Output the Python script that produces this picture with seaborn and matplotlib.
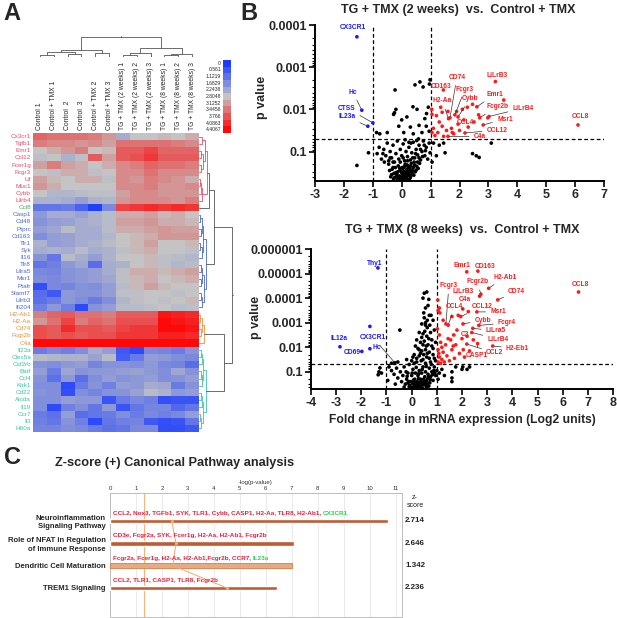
import numpy as np
import pandas as pd
import matplotlib
matplotlib.use("Agg")
import matplotlib.pyplot as plt
import matplotlib.transforms as mtransforms
from matplotlib.colors import LinearSegmentedColormap
from matplotlib.ticker import FixedLocator, NullFormatter
import seaborn as sns

# ---------------- panel A : heatmap ----------------
samples = ["Control 1", "Control + TMX 1", "Control  2", "Control  3", "Control + TMX 2", "Control + TMX 3",
           "TG + TMX (2 weeks) 1", "TG + TMX (2 weeks) 2", "TG + TMX (2 weeks) 3",
           "TG + TMX (8 weeks) 1", "TG + TMX (8 weeks) 2", "TG + TMX (8 weeks) 3"]
genes = ["Cx3cr1", "Tgfb1", "Emr1", "Ccl12", "Fcer1g", "Fcgr3", "Lif", "Muc1", "Cybb", "Lilrb4",
         "Ccl8",
         "Casp1", "Cd48", "Ptprc", "Cd163", "Tlr1", "Syk", "Il16", "Tlr8", "Lilra5", "Msr1", "Ptafr",
         "Slamf7", "Lilrb3", "Ifi204",
         "H2-Ab1", "H2-Aa", "Cd74", "Fcgr2b", "C4a",
         "Il23a", "Clec5a", "Csf2rb", "Batf", "Ccl4", "Klrk1", "Cd22", "Aicda", "Il19", "Ccr7", "Il3", "H60a"]
gene_group = ["red"] * 10 + ["green"] + ["blue"] * 14 + ["orange"] * 5 + ["teal"] * 12
group_colors = {"red": "#e0506a", "green": "#4cb050", "blue": "#4a68d0",
                "orange": "#e8923a", "teal": "#3cc4a2", "col": "#555555"}

expr_values = [
    [3.6, 3.5, 3.5, 3.5, 3.4, 3.2, 2.3, 2.8, 2.8, 2.9, 2.8, 3.0],
    [3.4, 3.3, 3.3, 3.2, 3.3, 3.1, 3.5, 3.5, 3.5, 3.5, 3.4, 3.3],
    [2.8, 3.0, 3.2, 3.4, 2.8, 2.9, 3.7, 3.7, 3.9, 3.6, 3.6, 3.6],
    [2.7, 2.8, 2.4, 2.7, 3.7, 3.1, 3.7, 3.8, 4.0, 3.7, 3.7, 3.7],
    [3.1, 3.4, 3.1, 3.0, 2.8, 3.0, 3.3, 3.4, 3.6, 3.5, 3.5, 3.4],
    [2.8, 2.7, 3.0, 3.0, 2.7, 2.8, 3.3, 3.3, 3.5, 3.3, 3.3, 3.3],
    [3.1, 2.9, 2.8, 3.0, 3.0, 2.7, 3.3, 3.2, 3.4, 3.3, 3.2, 3.0],
    [3.2, 3.0, 2.8, 2.8, 2.8, 2.8, 3.3, 3.3, 3.4, 3.2, 3.2, 3.3],
    [2.8, 2.5, 2.5, 2.6, 2.7, 2.7, 3.1, 3.3, 3.3, 3.2, 3.2, 3.2],
    [2.4, 2.4, 2.3, 2.0, 2.4, 2.5, 3.2, 3.3, 3.3, 3.3, 3.2, 3.4],
    [1.2, 1.2, 1.3, 0.8, 0.1, 1.6, 3.9, 4.0, 4.1, 4.0, 4.1, 4.0],
    [1.9, 2.3, 2.3, 2.1, 2.4, 2.6, 3.0, 3.0, 3.1, 2.9, 3.0, 2.8],
    [1.8, 2.0, 2.1, 2.3, 2.4, 2.6, 3.1, 3.1, 3.2, 3.0, 3.0, 2.9],
    [2.0, 2.2, 2.6, 2.3, 2.3, 2.6, 3.0, 3.0, 3.1, 3.2, 3.1, 3.1],
    [1.7, 2.0, 2.1, 2.3, 2.3, 2.5, 2.8, 2.9, 3.0, 3.2, 3.2, 3.2],
    [2.4, 2.0, 2.1, 2.3, 2.4, 2.6, 2.8, 2.9, 3.1, 2.8, 2.8, 2.9],
    [2.3, 2.4, 2.3, 2.6, 2.3, 2.4, 2.7, 2.9, 3.0, 2.8, 2.8, 2.7],
    [1.8, 1.2, 2.6, 2.3, 2.0, 2.4, 2.8, 2.8, 2.9, 2.7, 2.6, 2.5],
    [1.2, 1.4, 1.9, 2.2, 1.0, 2.3, 2.4, 2.8, 2.9, 2.7, 2.5, 2.6],
    [1.6, 1.5, 1.8, 1.9, 2.0, 2.3, 2.7, 3.0, 3.0, 2.9, 3.0, 3.1],
    [1.7, 1.6, 1.8, 1.9, 2.0, 2.2, 2.7, 2.9, 3.0, 2.8, 2.9, 3.0],
    [0.4, 1.6, 1.5, 1.8, 1.7, 2.0, 2.6, 2.9, 3.1, 2.9, 2.8, 2.8],
    [1.0, 0.6, 1.9, 1.8, 1.8, 2.0, 2.7, 2.7, 2.8, 2.8, 2.7, 2.8],
    [1.1, 1.3, 1.9, 1.7, 1.3, 1.7, 2.5, 2.7, 2.8, 2.7, 2.8, 2.9],
    [1.4, 1.9, 1.4, 0.3, 1.8, 2.0, 2.6, 2.6, 2.7, 2.8, 2.6, 2.7],
    [3.4, 3.6, 3.7, 3.5, 3.5, 3.4, 3.7, 3.7, 3.7, 4.3, 4.2, 4.1],
    [3.2, 3.5, 3.9, 3.4, 3.6, 3.5, 3.8, 3.8, 3.8, 4.4, 4.3, 4.2],
    [3.8, 3.7, 4.1, 3.8, 3.8, 3.7, 3.9, 4.0, 4.0, 4.4, 4.4, 4.3],
    [3.8, 3.7, 3.8, 3.7, 3.8, 3.8, 4.0, 4.0, 4.0, 4.2, 4.2, 4.1],
    [4.4, 4.4, 4.4, 4.4, 4.4, 4.4, 4.4, 4.4, 4.4, 4.4, 4.4, 4.4],
    [1.3, 1.6, 1.4, 1.7, 2.3, 2.0, 0.6, 0.3, 1.6, 1.5, 1.3, 1.8],
    [2.6, 2.5, 2.4, 2.4, 2.1, 2.6, 0.7, 1.3, 2.0, 1.9, 1.7, 1.6],
    [1.8, 1.7, 1.9, 2.0, 1.5, 1.8, 1.8, 1.7, 1.9, 1.6, 1.5, 1.0],
    [2.0, 1.3, 2.2, 1.8, 1.9, 1.9, 2.0, 2.1, 1.9, 1.7, 2.2, 1.8],
    [1.8, 1.1, 1.9, 1.0, 1.7, 2.0, 1.8, 1.9, 2.0, 1.7, 1.8, 2.0],
    [1.7, 1.7, 0.3, 1.3, 1.8, 1.4, 2.0, 1.9, 2.3, 2.2, 1.3, 1.8],
    [1.8, 1.7, 0.4, 1.7, 1.5, 1.8, 1.8, 2.1, 2.6, 2.4, 1.9, 2.0],
    [1.7, 1.7, 2.0, 1.9, 1.9, 0.5, 1.3, 1.6, 1.4, 0.4, 0.5, 0.5],
    [1.7, 0.3, 1.4, 1.7, 1.2, 1.9, 0.5, 1.2, 1.5, 1.5, 0.9, 1.2],
    [1.3, 1.1, 2.0, 1.0, 1.2, 1.3, 1.7, 1.3, 1.6, 1.4, 1.6, 2.0],
    [1.4, 1.2, 1.8, 1.4, 0.3, 1.2, 1.4, 1.5, 0.6, 0.4, 0.5, 1.2],
    [1.5, 1.5, 1.7, 1.6, 1.3, 1.1, 1.2, 1.6, 1.6, 0.4, 0.4, 0.6],
]
cbar_levels = [0, 0.561, 1.1219, 1.6829, 2.2438, 2.8048, 3.1252, 3.4456, 3.766, 4.0863, 4.4067]

# dendrograms: (left, right, height) tuples, leaves are row / column indices
red_tree = (((0, 1, 0.08), ((2, 3, 0.05), (4, 5, 0.06), 0.12), 0.18), (((6, 7, 0.04), 8, 0.07), 9, 0.1), 0.24)
blue_tree = ((((11, 12, 0.04), (13, 14, 0.05), 0.09), ((15, 16, 0.04), 17, 0.08), 0.13),
             (((18, 19, 0.05), (20, 21, 0.06), 0.1), ((22, 23, 0.05), 24, 0.08), 0.14), 0.2)
orange_tree = (((25, 26, 0.04), (27, 28, 0.05), 0.09), 29, 0.16)
teal_tree = ((((30, 31, 0.06), 32, 0.09), ((33, 34, 0.05), 35, 0.08), 0.13),
             (((36, 37, 0.05), 38, 0.09), ((39, 40, 0.04), 41, 0.07), 0.12), 0.2)
row_tree = ((((red_tree, 10, 0.3), blue_tree, 0.45)), (orange_tree, teal_tree, 0.72), 0.95)
col_tree = ((((0, 1, 0.12), (2, 3, 0.15), 0.22), (4, 5, 0.18), 0.32),
            (((6, 7, 0.1), 8, 0.2), ((9, 10, 0.08), 11, 0.16), 0.42), 0.95)

# ---------------- panel B : volcano plots (fold change, -log10 p) ----------------
black_2w = [(-0.42, 0.55), (-0.35, 0.45), (-0.3, 0.62), (-0.25, 0.38), (-0.2, 0.5), (-0.15, 0.33), (-0.12, 0.66),
            (-0.08, 0.42), (-0.05, 0.55), (0.0, 0.32), (0.02, 0.47), (0.05, 0.6), (0.08, 0.36), (0.1, 0.52),
            (0.12, 0.7), (0.15, 0.41), (0.18, 0.58), (0.2, 0.34), (0.22, 0.65), (0.25, 0.46), (0.28, 0.55),
            (0.3, 0.38), (0.33, 0.72), (0.35, 0.5), (0.4, 0.62), (0.42, 0.44), (0.45, 0.68), (0.5, 0.56),
            (0.55, 0.75), (-0.1, 0.36), (0.07, 0.45), (0.14, 0.31), (-0.02, 0.4), (0.03, 0.35), (0.17, 0.39),
            (0.26, 0.33), (-0.18, 0.41), (0.1, 0.33), (0.0, 0.5), (-0.28, 0.35),
            (-0.38, 0.4), (-0.33, 0.58), (-0.27, 0.48), (-0.22, 0.62), (-0.17, 0.46), (-0.13, 0.52),
            (-0.07, 0.6), (-0.03, 0.34), (0.01, 0.62), (0.04, 0.41), (0.06, 0.52), (0.09, 0.64), (0.11, 0.44),
            (0.13, 0.38), (0.16, 0.5), (0.19, 0.68), (0.21, 0.44), (0.23, 0.52), (0.27, 0.62), (0.29, 0.42),
            (0.31, 0.66), (0.34, 0.56), (0.37, 0.45), (0.39, 0.54), (0.43, 0.75), (0.47, 0.52), (0.52, 0.65),
            (0.57, 0.6), (0.6, 0.85), (-0.45, 0.7), (-0.4, 0.85), (-0.3, 0.75), (-0.05, 0.75), (0.05, 0.85),
            (0.2, 0.78), (0.38, 0.85), (0.48, 0.95), (0.65, 1.05), (0.78, 1.15), (-0.65, 0.95), (0.25, 1.22),
            (0.58, 1.3),
            (-0.85, 0.95), (-0.78, 1.1), (-0.7, 0.82), (-0.62, 1.05), (-0.55, 0.9), (-0.5, 1.2), (-0.45, 0.78),
            (-0.4, 1.0), (-0.35, 0.85), (-0.3, 1.15), (-0.25, 0.75), (-0.2, 0.95), (-0.15, 1.25), (-0.1, 0.82),
            (-0.05, 1.05), (0.0, 0.9), (0.05, 1.18), (0.1, 0.78), (0.15, 1.0), (0.2, 0.88), (0.25, 1.1),
            (0.3, 0.8), (0.35, 0.97), (0.4, 1.22), (0.45, 0.85), (0.5, 1.05), (0.55, 0.92), (0.6, 1.15),
            (0.65, 0.8), (0.7, 1.0), (0.75, 1.25), (0.8, 0.9), (0.85, 1.1), (0.9, 0.82), (0.95, 1.2),
            (0.98, 0.97), (0.62, 0.72), (0.72, 0.88), (-0.6, 0.75), (0.12, 1.28), (0.32, 1.2), (0.52, 1.26),
            (0.82, 1.02),
            (-1.15, 0.97), (-1.55, 0.67), (-0.87, 1.45), (-0.76, 1.42), (1.1, 1.2), (1.3, 1.15), (1.45, 1.2),
            (1.5, 0.97), (1.2, 0.9), (2.45, 0.95), (2.58, 0.9), (2.68, 0.86), (3.1, 1.2), (1.05, 0.75),
            (-0.5, 1.45), (0.07, 1.45), (0.4, 1.42), (0.7, 1.45), (0.95, 1.48), (-0.1, 1.6), (0.3, 1.58),
            (0.6, 1.62), (0.85, 1.6), (0.0, 1.75), (0.18, 1.82), (0.86, 1.9), (0.8, 1.78), (-0.25, 1.92),
            (-0.2, 2.0), (-0.28, 1.88), (0.39, 2.06), (0.53, 2.0), (0.92, 2.05), (-0.23, 2.46), (0.46, 2.58),
            (0.63, 2.65), (0.74, 2.53), (0.98, 2.7), (0.96, 2.6)]
red_2w = [(1.44, 2.46), (3.24, 2.66), (2.6, 2.06), (2.7, 1.8), (3.02, 1.83), (2.82, 1.63), (1.67, 1.8),
          (1.84, 1.87), (1.62, 1.78), (1.95, 1.82), (1.72, 1.55), (2.19, 1.44), (1.6, 1.36), (6.1, 1.63),
          (1.04, 2.0), (1.05, 1.88), (1.2, 1.85), (1.35, 2.05), (1.4, 1.93), (1.9, 1.95), (2.1, 2.0),
          (2.27, 2.05), (2.45, 2.12), (2.66, 1.87), (2.98, 1.8), (3.53, 2.22), (1.1, 1.55), (1.25, 1.45),
          (1.4, 1.6), (1.55, 1.5), (1.75, 1.45), (1.15, 1.38), (1.45, 1.36), (1.8, 1.42), (2.0, 1.5),
          (2.3, 1.58), (2.5, 1.7), (1.3, 1.7), (1.05, 1.45), (1.6, 1.95), (2.15, 1.75), (1.95, 1.65)]
blue_2w = [(-1.55, 3.72), (-1.38, 1.98), (-1.0, 1.68), (-1.17, 1.6)]
# name, text x, text -log10p, point x, point -log10p, leader line, colour group
labels_2w = [("CX3CR1", -1.69, 3.93, -1.55, 3.72, False, "down"),
             ("Hc", -1.69, 2.41, -1.38, 1.98, True, "down"),
             ("CTSS", -1.9, 2.03, -1.0, 1.68, True, "down"),
             ("IL23a", -1.9, 1.82, -1.17, 1.6, True, "down"),
             ("CD74", 1.91, 2.76, 1.67, 1.8, True, "up"),
             ("CD163", 1.36, 2.54, 1.44, 2.46, False, "up"),
             ("LiLrB3", 3.3, 2.8, 3.24, 2.66, False, "up"),
             ("Fcgr3", 2.19, 2.48, 1.84, 1.87, True, "up"),
             ("Emr1", 3.23, 2.36, 2.6, 2.06, True, "up"),
             ("H2-Aa", 1.4, 2.2, 1.62, 1.78, True, "up"),
             ("Cybb", 2.36, 2.25, 1.95, 1.82, True, "up"),
             ("Fcgr2b", 3.3, 2.06, 2.7, 1.8, True, "up"),
             ("LiLrB4", 4.2, 2.03, 3.02, 1.83, True, "up"),
             ("Msr1", 3.57, 1.77, 2.82, 1.63, True, "up"),
             ("CCL4", 2.19, 1.68, 1.72, 1.55, True, "up"),
             ("CCL12", 3.3, 1.51, 2.19, 1.44, True, "up"),
             ("C4a", 2.7, 1.35, 1.6, 1.36, True, "up"),
             ("CCL8", 6.17, 1.82, 6.1, 1.63, False, "up")]

black_8w = [(0.5, 4.2), (0.6, 4.25), (0.45, 4.0), (0.68, 3.95), (0.55, 3.6), (0.5, 3.2), (0.4, 2.95),
            (0.55, 2.9), (0.7, 3.3), (0.77, 3.3), (0.62, 2.8), (0.85, 3.1), (0.3, 2.6), (0.45, 2.55),
            (0.6, 2.45), (0.75, 2.6), (0.9, 2.7), (0.2, 2.3), (0.35, 2.2), (0.5, 2.25), (0.65, 2.1),
            (0.8, 2.3), (0.95, 2.2), (0.25, 1.95), (0.4, 1.85), (0.55, 1.9), (0.7, 1.8), (0.85, 1.95),
            (-0.47, 2.7), (0.1, 1.7), (0.3, 1.65), (0.6, 1.6), (0.9, 1.55), (-0.2, 1.5), (0.0, 1.45),
            (0.2, 1.4), (0.45, 1.5), (0.75, 1.4), (0.95, 1.45), (-0.55, 1.4), (-0.8, 1.35), (0.35, 1.75),
            (0.15, 2.05), (0.05, 1.6), (-0.67, 1.37),
            (0.55, 3.0), (0.65, 3.7), (0.48, 3.4), (0.62, 3.1), (0.72, 2.9), (0.52, 2.65), (0.4, 2.4),
            (0.68, 2.35), (0.58, 2.05), (0.45, 2.1), (0.8, 2.05), (0.3, 1.9), (0.62, 1.75), (0.48, 1.7),
            (0.2, 1.55), (0.38, 1.45), (0.7, 1.55), (0.85, 1.7), (0.1, 1.35), (0.55, 1.35), (-0.1, 1.3),
            (-1.33, 0.88), (-1.3, 1.0), (-1.26, 1.16), (-1.2, 0.95), (-0.9, 1.2), (-0.8, 1.05), (-0.7, 0.9),
            (-0.6, 1.15), (-0.55, 0.75), (-0.45, 1.0), (-0.4, 0.6), (-0.35, 0.85), (-0.3, 1.2), (-0.25, 0.5),
            (-0.2, 0.7), (-0.15, 0.95), (-0.1, 0.4), (-0.05, 0.6), (0.0, 0.85), (0.0, 0.33), (0.05, 1.1),
            (0.1, 0.5), (0.12, 0.7), (0.15, 0.95), (0.2, 0.4), (0.22, 0.6), (0.25, 0.85), (0.3, 1.05),
            (0.32, 0.5), (0.35, 0.7), (0.4, 0.95), (0.42, 0.35), (0.45, 1.2), (0.5, 0.6), (0.52, 0.8),
            (0.55, 1.0), (0.6, 0.45), (0.62, 0.7), (0.65, 0.9), (0.7, 1.15), (0.72, 0.55), (0.75, 0.8),
            (0.8, 1.0), (0.85, 0.65), (0.9, 1.2), (0.95, 0.85), (1.0, 1.05), (1.05, 0.7), (1.1, 0.95),
            (1.2, 1.1), (1.3, 0.85), (1.6, 1.0), (1.6, 0.75), (1.6, 0.6), (1.75, 1.2), (2.0, 1.1),
            (2.03, 1.2), (2.2, 1.1), (2.3, 1.2), (-0.95, 0.65), (-0.65, 0.5), (0.08, 0.38), (0.18, 0.32),
            (-0.08, 0.45), (0.28, 0.36), (0.38, 0.42), (0.58, 0.38), (-0.3, 0.38), (0.48, 0.48), (0.1, 0.58),
            (0.3, 0.55), (-0.15, 0.55), (0.68, 0.42),
            (-0.02, 0.38), (0.04, 0.52), (0.07, 0.66), (0.14, 0.45), (0.17, 0.56), (0.24, 0.46), (0.27, 0.72),
            (0.34, 0.42), (0.37, 0.6), (0.44, 0.52), (0.47, 0.7), (0.54, 0.48), (0.57, 0.62), (0.64, 0.55),
            (0.67, 0.78), (0.74, 0.68), (0.82, 0.88), (0.88, 1.05), (-0.12, 0.6), (-0.18, 0.82), (-0.22, 1.0),
            (0.02, 0.95), (0.18, 1.18), (0.28, 0.92), (0.42, 1.1), (0.58, 1.22), (0.78, 1.3), (0.92, 0.95)]
red_8w = [(2.19, 5.07), (2.63, 5.1), (3.06, 4.4), (2.75, 4.16), (2.7, 4.08), (3.42, 3.93), (6.63, 4.25),
          (1.36, 2.95), (2.03, 3.56), (1.45, 2.9), (1.95, 3.25), (2.59, 3.44), (2.04, 2.95), (2.67, 2.89),
          (2.43, 2.77), (1.67, 2.5), (2.39, 2.6), (3.22, 2.05), (2.19, 2.13), (2.62, 2.15),
          (1.05, 1.4), (1.1, 1.6), (1.05, 1.9), (1.15, 2.2), (1.2, 1.5), (1.25, 1.8), (1.1, 2.5), (1.3, 1.4),
          (1.35, 2.1), (1.4, 1.65), (1.5, 1.45), (1.55, 2.3), (1.6, 1.9), (1.7, 1.55), (1.75, 2.1),
          (1.8, 2.7), (1.9, 1.75), (2.0, 2.35), (2.1, 1.6), (2.2, 2.45), (2.3, 1.85), (2.45, 2.3),
          (1.05, 3.5), (1.12, 3.4), (1.25, 3.1), (1.6, 3.25), (1.85, 3.3), (2.25, 3.45), (1.02, 2.75),
          (1.15, 1.35), (1.08, 1.75), (1.2, 2.0), (1.45, 2.35), (1.65, 2.05), (2.05, 1.9), (1.04, 3.92),
          (1.1, 3.6)]
blue_8w = [(-1.34, 5.23), (-2.85, 2.02), (-1.98, 1.83), (-1.66, 1.94), (-1.66, 2.85)]
labels_8w = [("Thy1", -1.46, 5.43, -1.34, 5.23, False, "down"),
             ("Emr1", 2.0, 5.31, 2.19, 5.07, False, "up"),
             ("CD163", 2.9, 5.3, 2.63, 5.1, False, "up"),
             ("H2-Ab1", 3.7, 4.86, 3.06, 4.4, True, "up"),
             ("Fcgr2b", 2.6, 4.66, 2.75, 4.16, True, "up"),
             ("LiLrB3", 2.05, 4.25, 2.7, 4.08, True, "up"),
             ("CD74", 4.17, 4.27, 3.42, 3.93, True, "up"),
             ("CCL8", 6.7, 4.54, 6.63, 4.25, False, "up"),
             ("Fcgr3", 1.48, 4.5, 1.36, 2.95, True, "up"),
             ("C4a", 2.1, 3.93, 2.03, 3.56, True, "up"),
             ("CCL4", 1.71, 3.65, 1.45, 2.9, True, "up"),
             ("CCL12", 2.79, 3.65, 1.95, 3.25, True, "up"),
             ("Msr1", 3.43, 3.44, 2.59, 3.44, True, "up"),
             ("Cybb", 2.83, 3.1, 2.04, 2.95, True, "up"),
             ("Fcgr4", 3.78, 2.99, 2.67, 2.89, True, "up"),
             ("LiLra5", 3.34, 2.67, 2.43, 2.77, True, "up"),
             ("C3", 2.1, 2.5, 1.67, 2.5, True, "up"),
             ("LiLrB4", 3.43, 2.33, 2.39, 2.6, True, "up"),
             ("H2-Eb1", 4.2, 1.95, 3.22, 2.05, True, "up"),
             ("CCL2", 3.3, 1.77, 2.19, 2.13, True, "up"),
             ("CASP1", 2.59, 1.65, 2.62, 2.15, True, "up"),
             ("IL12a", -2.9, 2.35, -2.85, 2.02, False, "down"),
             ("CD69", -2.37, 1.78, -1.98, 1.83, False, "down"),
             ("CX3CR1", -1.54, 2.4, -0.67, 1.37, True, "down"),
             ("Hc", -1.38, 2.0, -1.66, 1.94, False, "down")]
point_colors = {"ns": "black", "up": "#ff1a1a", "down": "#1a1aff"}

# ---------------- panel C : canonical pathways ----------------
pathways = ["Neuroinflammation\nSignaling Pathway", "Role of NFAT in Regulation\nof Immune Response",
            "Dendritic Cell Maturation", "TREM1 Signaling"]
path_neglogp = [10.7, 7.08, 7.0, 6.42]
path_ratio = [2.38, 2.54, 2.42, 4.5]
path_zscore = ["2.714", "2.646", "1.342", "2.236"]
genes_up = ["CCL2, Nox3, TGFb1, SYK, TLR1, Cybb, CASP1, H2-Aa, TLR8, H2-Ab1, ",
            "CD3e, Fcgr2a, SYK, Fcer1g, H2-Aa, H2-Ab1, Fcgr2b",
            "Fcgr2a, Fcer1g, H2-Aa, H2-Ab1,Fcgr2b, CCR7, ",
            "CCL2, TLR1, CASP1, TLR8, Fcgr2b"]
genes_down = ["CX3CR1", "", "IL23a", ""]
bar_colors = ["#d4521c", "#d4521c", "#f2a878", "#d4521c"]

# ---------------- drawing ----------------
sns.set_theme(style="ticks")
plt.rcParams["font.family"] = ["Liberation Sans", "DejaVu Sans"]

W, H = 617, 618
fig = plt.figure(figsize=(W / 100, H / 100), dpi=100)


def box(x0, y0, x1, y1):
    return [x0 / W, 1 - y1 / H, (x1 - x0) / W, (y1 - y0) / H]


hm_cmap = LinearSegmentedColormap.from_list("bgr", [(0, "#1a3cff"), (0.636, "#c4c4c4"), (1, "#ff0808")])

# heatmap
ax_hm = fig.add_axes(box(33, 133, 199, 432))
expr = pd.DataFrame(expr_values, index=genes, columns=samples)
sns.heatmap(expr, ax=ax_hm, cmap=hm_cmap, vmin=0, vmax=4.4067, cbar=False,
            xticklabels=True, yticklabels=True)
ax_hm.xaxis.tick_top()
ax_hm.tick_params(axis="x", rotation=90, labelsize=4.9, length=0, pad=2)
ax_hm.tick_params(axis="y", rotation=0, labelsize=4.6, length=0, pad=1.5)
for lab, grp in zip(ax_hm.get_yticklabels(), gene_group):
    lab.set_color(group_colors[grp])

# colour key
ax_cb = fig.add_axes(box(223, 60, 231, 133))
sns.heatmap(np.array(cbar_levels).reshape(-1, 1), ax=ax_cb, cmap=hm_cmap, vmin=0, vmax=4.4067,
            cbar=False, xticklabels=False, yticklabels=[f"{v:g}" for v in cbar_levels])
ax_cb.tick_params(axis="y", rotation=0, labelsize=3.6, length=0, pad=1.5)


def draw_tree(ax, node, leaf_group, vertical):
    if isinstance(node, int):
        return node + 0.5, 0.0, {leaf_group[node]}
    left, right, h = node
    p1, h1, g1 = draw_tree(ax, left, leaf_group, vertical)
    p2, h2, g2 = draw_tree(ax, right, leaf_group, vertical)
    grp = g1 | g2
    col = group_colors[next(iter(grp))] if len(grp) == 1 else "#555555"
    hs = [h1, h, h, h2]
    ps = [p1, p1, p2, p2]
    if vertical:
        ax.plot(ps, hs, color=col, lw=0.6)
    else:
        ax.plot(hs, ps, color=col, lw=0.6)
    return (p1 + p2) / 2, h, grp


ax_rd = fig.add_axes(box(199, 133, 236, 432))
pos, top, _ = draw_tree(ax_rd, row_tree, gene_group, False)
ax_rd.plot([top, 1.0], [pos, pos], color="#555555", lw=0.6)
ax_rd.set_xlim(0, 1.08)
ax_rd.set_ylim(len(genes), 0)
ax_rd.axis("off")

ax_cd = fig.add_axes(box(33, 36, 199, 57))
pos, top, _ = draw_tree(ax_cd, col_tree, ["col"] * len(samples), True)
ax_cd.plot([pos, pos], [top, 1.0], color="#555555", lw=0.6)
ax_cd.set_xlim(0, len(samples))
ax_cd.set_ylim(0, 1.02)
ax_cd.axis("off")


def volcano(ax, black, red, blue, labels, xticks, ymin_p, ytick_p, ytick_lab):
    rows = []
    for grp, pts in (("ns", black), ("up", red), ("down", blue)):
        for fc, nlp in pts:
            rows.append((grp, fc, 10 ** (-nlp)))
    df = pd.DataFrame(rows, columns=["grp", "fc", "p"])
    sns.scatterplot(data=df, x="fc", y="p", hue="grp", palette=point_colors, s=7,
                    linewidth=0, legend=False, ax=ax, zorder=3)
    ax.set_yscale("log")
    ax.set_xlim(xticks[0], xticks[-1])
    ax.set_ylim(0.5, ymin_p)
    for v in (-1, 1):
        ax.axvline(v, color="black", lw=0.9, ls=(0, (3, 2)), zorder=1)
    ax.axhline(0.05, color="black", lw=0.9, ls=(0, (3, 2)), zorder=1)
    for name, tx, tl, px, pl, line, grp in labels:
        col = point_colors[grp]
        if line:
            ax.annotate(name, xy=(px, 10 ** (-pl)), xytext=(tx, 10 ** (-tl)), color=col,
                        fontsize=4.8, fontweight="bold", ha="center", va="center",
                        arrowprops=dict(arrowstyle="-", color="#333333", lw=0.5, shrinkA=1, shrinkB=1))
        else:
            ax.text(tx, 10 ** (-tl), name, color=col, fontsize=4.8, fontweight="bold",
                    ha="center", va="center")
    ax.set_xticks(xticks, [str(t) for t in xticks], fontsize=9, fontweight="bold")
    ax.set_yticks(ytick_p, ytick_lab, fontsize=9, fontweight="bold")
    minors = [m * d for d in ytick_p for m in range(2, 10) if m * d < 0.5]
    ax.yaxis.set_minor_locator(FixedLocator(minors))
    ax.yaxis.set_minor_formatter(NullFormatter())
    ax.tick_params(axis="both", which="major", length=4, width=1.2, pad=2, color="black")
    ax.tick_params(axis="y", which="minor", length=2, width=0.8, color="black")
    ax.set_xlabel("")
    ax.set_ylabel("")
    sns.despine(ax=ax)
    for s in ("left", "bottom"):
        ax.spines[s].set_linewidth(1.4)
        ax.spines[s].set_color("black")


ax_b1 = fig.add_axes(box(315, 25, 604, 181))
volcano(ax_b1, black_2w, red_2w, blue_2w, labels_2w, list(range(-3, 8)), 1e-4,
        [1e-4, 1e-3, 1e-2, 1e-1], ["0.0001", "0.001", "0.01", "0.1"])
ax_b2 = fig.add_axes(box(311, 249, 613, 389))
volcano(ax_b2, black_8w, red_8w, blue_8w, labels_8w, list(range(-4, 9)), 1e-6,
        [1e-6, 1e-5, 1e-4, 1e-3, 1e-2, 1e-1],
        ["0.000001", "0.00001", "0.0001", "0.001", "0.01", "0.1"])

fig.text(458 / W, 1 - 10 / H, "TG + TMX (2 weeks)  vs.  Control + TMX", ha="center", va="center",
         fontsize=9, fontweight="bold")
fig.text(462 / W, 1 - 230 / H, "TG + TMX (8 weeks)  vs.  Control + TMX", ha="center", va="center",
         fontsize=9, fontweight="bold")
fig.text(262 / W, 1 - 97 / H, "p value", rotation=90, ha="center", va="center", fontsize=9, fontweight="bold")
fig.text(256 / W, 1 - 317 / H, "p value", rotation=90, ha="center", va="center", fontsize=9, fontweight="bold")
fig.text(462 / W, 1 - 420 / H, "Fold change in mRNA expression (Log2 units)", ha="center", va="center",
         fontsize=8.7, fontweight="bold")

# panel C
ax_c = fig.add_axes(box(110, 493, 402, 617))
path_df = pd.DataFrame({"pathway": pathways, "neglogp": path_neglogp})
sns.barplot(data=path_df, x="neglogp", y="pathway", hue="pathway", palette=bar_colors, legend=False,
            orient="h", width=0.2, ax=ax_c, zorder=3)
for i, patch in enumerate(ax_c.patches):
    if i == 2:
        patch.set_edgecolor("#e07a40")
        patch.set_linewidth(0.6)
ax_c.set_xlim(0, 11.25)
ax_c.set_ylim(4.3, -1.25)
ax_c.xaxis.tick_top()
ax_c.xaxis.set_label_position("top")
ax_c.set_xticks(range(0, 12))
ax_c.tick_params(axis="x", labelsize=4.3, length=0, pad=1.5, colors="#333333")
ax_c.set_xlabel("-log(p-value)", fontsize=4.3, labelpad=1.5, color="#333333")
ax_c.set_ylabel("")
ax_c.set_yticks(range(len(pathways)))
ax_c.set_yticklabels(pathways, fontsize=5.5, fontweight="bold", ha="right", multialignment="right",
                     linespacing=1.25)
ax_c.tick_params(axis="y", length=0, pad=3)
ax_c.grid(axis="x", color="#e6e6e6", lw=0.6, zorder=0)
for s in ax_c.spines.values():
    s.set_color("#bdbdbd")
    s.set_linewidth(0.7)
ax_c.axvline(1.3, color="#f6b27a", lw=0.8, zorder=2)
ax_c.plot(path_ratio, range(len(pathways)), color="#f6a866", lw=0.7, marker="o", ms=1.3, zorder=4)
for i in range(len(pathways)):
    t = ax_c.text(0.12, i - 0.33, genes_up[i], color="#e8203e", fontsize=4.6, fontweight="bold",
                  va="center", ha="left", zorder=5)
    if genes_down[i]:
        ax_c.annotate(genes_down[i], xy=(1, 0.5), xycoords=t, color="#22d84a", fontsize=4.6,
                      fontweight="bold", va="center", ha="left")
zt = mtransforms.blended_transform_factory(ax_c.transAxes, ax_c.transData)
ax_c.text(1.045, -0.87, "z-\nscore", transform=zt, ha="center", va="center", fontsize=5, color="#222222")
for i, z in enumerate(path_zscore):
    ax_c.text(1.045, i, z, transform=zt, ha="center", va="center", fontsize=5.8, fontweight="bold",
              color="#222222")

fig.text(55 / W, 1 - 463 / H, "Z-score (+) Canonical Pathway analysis", ha="left", va="center",
         fontsize=9.2, fontweight="bold")

# panel letters
fig.text(12 / W, 1 - 14 / H, "A", fontsize=17, fontweight="bold", ha="center", va="center")
fig.text(249 / W, 1 - 14 / H, "B", fontsize=17, fontweight="bold", ha="center", va="center")
fig.text(12 / W, 1 - 457 / H, "C", fontsize=17, fontweight="bold", ha="center", va="center")

fig.savefig("out.png", dpi=100)
